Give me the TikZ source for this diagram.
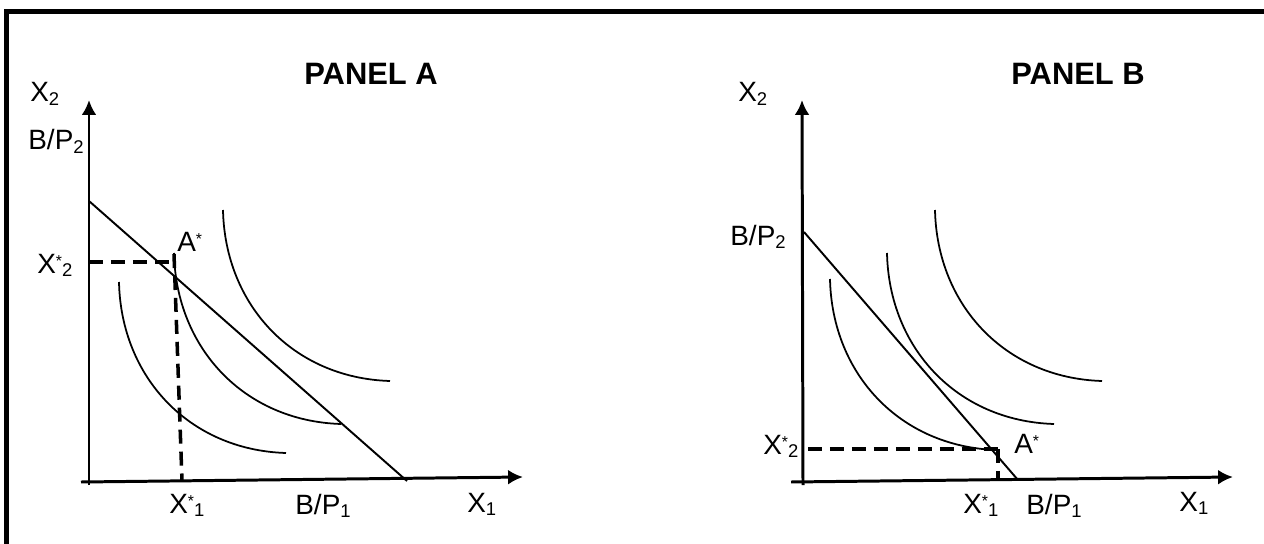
\documentclass[tikz,border=0pt]{standalone}
\usepackage{fontspec}
\setmainfont{Liberation Sans}
\usetikzlibrary{arrows.meta}
\newcommand{\etiq}{\fontsize{15.9}{18}\selectfont}
\newcommand{\titulo}{\fontsize{17.6}{20}\selectfont\bfseries}
\newcommand{\subi}[1]{\raisebox{-2pt}{\fontsize{10.5}{12}\selectfont #1}}
\newcommand{\estr}{\raisebox{3.5pt}{\fontsize{9}{10}\selectfont *}}

\begin{document}
\begin{tikzpicture}[x=0.02cm,y=-0.02cm,>={Latex[length=8.5pt,width=8.5pt]},
  eje/.style={line width=1.7pt,->},
  recta/.style={line width=1.1pt},
  curva/.style={line width=1pt},
  guia/.style={line width=2pt,dash pattern=on 8pt off 4.5pt},
  lbl/.style={inner sep=0pt,anchor=base west,font=\etiq}]
  \useasboundingbox (0,0) rectangle (1264,544);
  % marco
  \draw[line width=2.8pt,line join=miter] (6.5,544) -- (6.5,11.5) -- (1264,11.5);

  % panel A: ejes
  \coordinate (OA) at (89,485);
  \coordinate (YA) at (89,100);
  \coordinate (XiA) at (81,482);
  \coordinate (XfA) at (523,477);
  \draw[eje] (OA) -- (YA);
  \draw[eje] (XiA) -- (XfA);
  % recta de presupuesto
  \coordinate (B2A) at (89,201);
  \coordinate (B1A) at (407,481);
  \draw[recta] (B2A) -- (B1A);
  % curvas de indiferencia
  \foreach \x/\y in {119/282,174/253,223/210}{
    \draw[curva] (\x,\y) .. controls (\x+2,\y+95) and (\x+70,\y+168) .. (\x+167,\y+171);
  }
  % optimo
  \coordinate (X2A) at (89,262);
  \coordinate (EA) at (174,262);
  \coordinate (EAt) at (174,254);
  \coordinate (X1A) at (182,481);
  \draw[guia] (X2A) -- (EA);
  \draw[guia] (EAt) -- (X1A);
  \node[lbl,font=\titulo] (titA) at (304,85) {PANEL A};
  \node[lbl] (ejeyA) at (30,102) {X\subi{2}};
  \node[lbl] (bp2A) at (28,150) {B/P\subi{2}};
  \node[lbl] (x2A) at (37,273) {X\estr\subi{2}};
  \node[lbl] (aA) at (177,251) {A\estr};
  \node[lbl] (x1A) at (169,513) {X\estr\subi{1}};
  \node[lbl] (bp1A) at (295,514) {B/P\subi{1}};
  \node[lbl] (ejexA) at (467,512) {X\subi{1}};

  % panel B: ejes
  \coordinate (OB) at (803,485);
  \coordinate (YB) at (802,100);
  \coordinate (XiB) at (791,482);
  \coordinate (XfB) at (1233,477);
  \draw[eje] (OB) -- (YB);
  \draw[eje] (XiB) -- (XfB);
  % recta de presupuesto
  \coordinate (B2B) at (804,232);
  \coordinate (B1B) at (1018,480);
  \draw[recta] (B2B) -- (B1B);
  % curvas de indiferencia
  \foreach \x/\y in {830/279,887/253,935/210}{
    \draw[curva] (\x,\y) .. controls (\x+2,\y+95) and (\x+70,\y+168) .. (\x+167,\y+171);
  }
  % optimo
  \coordinate (X2B) at (808,449);
  \coordinate (EB) at (998,449);
  \coordinate (X1B) at (998,480);
  \draw[guia] (X2B) -- (EB);
  \draw[guia] (EB) -- (X1B);
  \node[lbl,font=\titulo] (titB) at (1011,85) {PANEL B};
  \node[lbl] (ejeyB) at (738,102) {X\subi{2}};
  \node[lbl] (bp2B) at (730,245) {B/P\subi{2}};
  \node[lbl] (x2B) at (763,454) {X\estr\subi{2}};
  \node[lbl] (aB) at (1014,453) {A\estr};
  \node[lbl] (x1B) at (963,513) {X\estr\subi{1}};
  \node[lbl] (bp1B) at (1026,514) {B/P\subi{1}};
  \node[lbl] (ejexB) at (1179,511) {X\subi{1}};
\end{tikzpicture}
\end{document}
